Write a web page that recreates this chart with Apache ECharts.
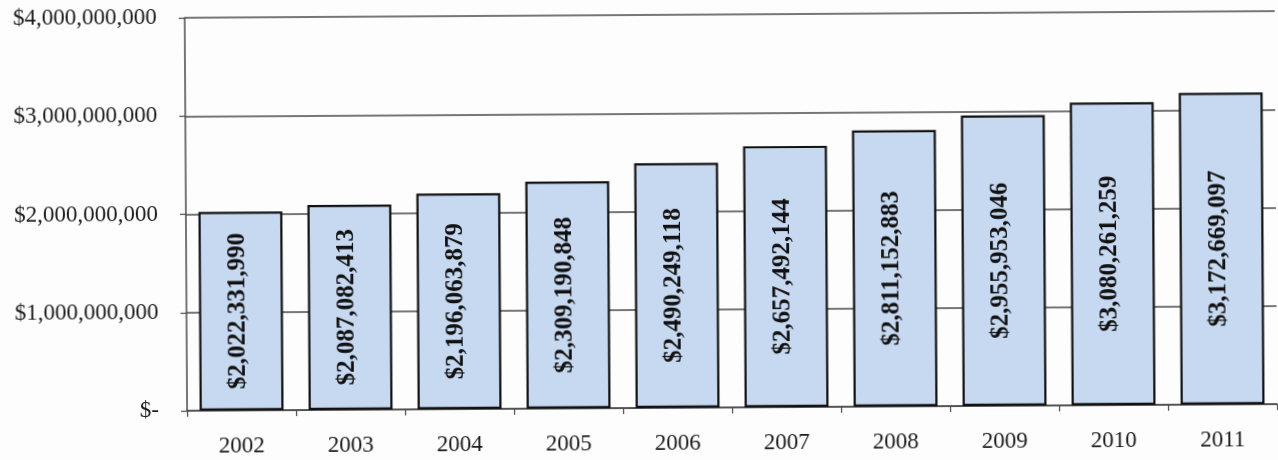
<!DOCTYPE html>
<html>
<head>
<meta charset="utf-8">
<script src="https://cdn.jsdelivr.net/npm/echarts@6/dist/echarts.min.js"></script>
<style>
  html, body { margin: 0; padding: 0; background: #fdfdfd; overflow: hidden; }
  #chart { width: 1278px; height: 460px; transform: rotate(-0.35deg); transform-origin: 50% 50%; }
</style>
</head>
<body>
<div id="chart"></div>
<script>
// Annual totals, 2002–2011
const years = ['2002', '2003', '2004', '2005', '2006', '2007', '2008', '2009', '2010', '2011'];
const totals = [2022331990, 2087082413, 2196063879, 2309190848, 2490249118,
                2657492144, 2811152883, 2955953046, 3080261259, 3172669097];
const yTicks = [0, 1000000000, 2000000000, 3000000000, 4000000000];

const serif = '"Liberation Serif", "DejaVu Serif", serif';
const gridColor = '#4a4a4a';

function money(v) {
  if (v === 0) return '$-';
  return '$' + v.toLocaleString('en-US');
}

const chart = echarts.init(document.getElementById('chart'), null, { renderer: 'canvas' });
chart.setOption({
  backgroundColor: '#fdfdfd',
  animation: false,
  grid: { left: 186, right: 2, top: 15, bottom: 52 },
  xAxis: {
    type: 'category',
    data: years,
    boundaryGap: true,
    axisLine: { show: true, lineStyle: { color: gridColor, width: 1.5 } },
    axisTick: { show: true, length: 6, inside: false, alignWithLabel: false,
                lineStyle: { color: gridColor, width: 1.2 } },
    axisLabel: { color: '#1a1a1a', fontFamily: serif, fontSize: 23, margin: 24 }
  },
  yAxis: {
    type: 'value',
    min: yTicks[0],
    max: yTicks[yTicks.length - 1],
    interval: yTicks[1] - yTicks[0],
    axisLine: { show: true, lineStyle: { color: gridColor, width: 1.5 } },
    axisTick: { show: true, length: 6, lineStyle: { color: gridColor, width: 1.2 } },
    splitLine: { show: true, lineStyle: { color: gridColor, width: 1.5 } },
    axisLabel: { color: '#1a1a1a', fontFamily: serif, fontSize: 23, margin: 28,
                 formatter: money }
  },
  series: [{
    type: 'bar',
    data: totals,
    barCategoryGap: '23%',
    itemStyle: { color: '#c7d9f1', borderColor: '#111', borderWidth: 2.2 },
    label: {
      show: true,
      position: 'inside',
      rotate: 90,
      offset: [0, -3],
      color: '#111',
      fontFamily: serif,
      fontWeight: 'bold',
      fontSize: 25,
      formatter: p => money(p.value)
    }
  }]
});
</script>
</body>
</html>
